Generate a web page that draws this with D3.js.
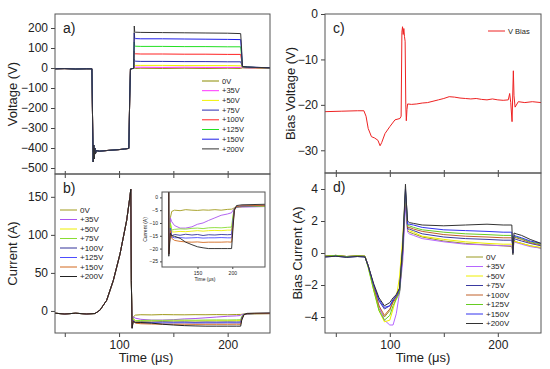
<!DOCTYPE html>
<html>
<head>
<meta charset="utf-8">
<script src="https://cdn.jsdelivr.net/npm/d3@7"></script>
<style>
  body { margin: 0; background: #fff; }
  text { font-family: Arial, "Liberation Sans", sans-serif; fill: #222; }
</style>
</head>
<body>
<svg id="chart" width="550" height="369"></svg>
<script>
// ---------------- data ----------------
var biasLabels = ["0V", "+35V", "+50V", "+75V", "+100V", "+125V", "+150V", "+200V"];

// a) electrode voltage: common negative pulse, then one plateau per bias
var pulseTimeA = [41, 50, 60, 70, 75, 75.7, 76.2, 76.7, 77.2, 77.7, 78.2, 79, 82, 90, 100, 105, 109, 109.8, 110.5, 112, 113.5];
var pulseA     = [-4, -3, -5, -4, -4, -300, -470, -385, -455, -400, -430, -413, -416, -412, -408, -405, -402, -150, -5, -3, -2];
var platTimeA  = [114, 114.4, 115, 120, 140, 160, 180, 200, 212, 212.8, 213.6, 218, 228, 239];
var platA = [
  [0, -1, -2, -1, -2, -1, -2, -1, -2, -1, 1, 0, -1, 0],
  [10, 5, 4, 4, 3, 4, 3, 3, 3, 2, 2, 1, 0, 0],
  [20, 15, 13, 13, 13, 12, 12, 12, 11, 8, 4, 3, 1, 0],
  [45, 36, 34, 33, 33, 32, 32, 31, 31, 20, 5, 4, 2, 1],
  [85, 72, 71, 70, 70, 69, 69, 68, 68, 40, 6, 4, 2, 1],
  [130, 112, 109, 108, 108, 107, 107, 106, 106, 60, 6, 5, 2, 1],
  [175, 150, 147, 146, 146, 145, 144, 143, 142, 80, 7, 5, 3, 1],
  [210, 182, 179, 178, 177, 176, 175, 174, 172, 100, 8, 5, 3, 1]
];
var colorsA = ["#8b8b00", "#ff33ff", "#f2f200", "#2b2bb0", "#ff2222", "#22e022", "#1e1ee8", "#333333"];

// b) current: common ramp, then one plateau per bias
var rampTimeB = [41, 50, 60, 70, 77.8, 82.4, 88.6, 94.7, 100.9, 107, 110, 110.8, 111.3];
var rampB     = [-3, -4, -3, -4, -3.4, 1, 14, 40, 75, 119, 150, 160, 40];
var platTimeB = [112, 113, 115, 120, 130, 140, 150, 160, 170, 180, 190, 200, 208, 212, 213, 215, 218, 225, 239];
var platTimeInset = [108.8, 111, 113, 117, 125, 133, 142, 150, 158, 166, 175, 184, 193, 199, 201, 203, 206, 214, 247];
var platB = [
  [-22, -8, -5.5, -5, -5.2, -4.8, -5, -5.1, -4.9, -5, -4.8, -5, -4.7, -4.6, -4.4, -4, -3.8, -3.6, -3.5],
  [-22, -8, -9.5, -11, -12, -12, -11.5, -10.5, -10, -9, -8, -7, -6.5, -6, -5, -4.2, -4, -3.8, -3.6],
  [-22, -10, -13.5, -13.5, -13.3, -13.4, -13.2, -13, -13.2, -13, -12.9, -13, -12.8, -12.8, -8, -4.5, -3.8, -3.6, -3.5],
  [-22, -10, -12.8, -12.5, -12.3, -12.4, -12.1, -12, -12.2, -11.9, -11.8, -11.9, -11.7, -11.6, -7, -4.4, -3.8, -3.6, -3.4],
  [-22, -12, -15, -14.5, -14.8, -14.4, -14.7, -14.5, -14.9, -14.6, -14.7, -14.5, -14.6, -14.5, -9, -4.6, -3.7, -3.4, -3.2],
  [-22, -12, -15.5, -15.8, -15.7, -15.9, -15.8, -15.7, -15.9, -15.8, -15.8, -15.7, -15.8, -15.8, -10, -4.8, -3.8, -3.4, -3.2],
  [-22, -13, -16, -16.8, -17.2, -17.4, -17.5, -17.4, -17.6, -17.5, -17.5, -17.5, -17.4, -17.5, -11, -5, -3.6, -3.3, -3.1],
  [-23, -14, -15, -15.2, -16, -17.5, -18.5, -19.3, -19.7, -20, -20, -20, -20, -20, -12, -5, -3.2, -2.9, -2.7]
];
var colorsB = ["#a09a1a", "#aa55ee", "#eeee00", "#88dd33", "#333399", "#4d4dff", "#d2691e", "#222222"];

// c) bias voltage
var timeC = [40, 55, 70, 76, 78, 80, 83, 86, 89, 91, 92.5, 95.6, 100, 104.8, 109.4, 110.5, 111.2, 111.8, 112.4, 113, 113.6, 114.2, 114.8, 115.3, 115.9, 116.5,
             120, 125, 130, 135, 140, 145, 150, 155, 160, 165, 170, 175, 180, 185, 190, 195, 200, 205, 209.7, 211, 212, 213.2, 214.4, 215, 216, 219, 225, 232, 240];
var biasV = [-21.5, -21.4, -21.3, -21.3, -22.5, -25.2, -27, -27.3, -27.8, -29, -28.3, -26.3, -24.8, -23.3, -23, -22.5, -4, -2.8, -4.5, -3.2, -5, -6, -20, -23.5, -21, -19.8,
             -19.9, -19.8, -19.6, -19.5, -19.2, -18.9, -18.6, -18.2, -18.3, -18.5, -18.6, -18.7, -18.6, -18.8, -18.9, -18.7, -18.9, -19.0, -18.9, -17.5, -19.5, -23.7, -12.5, -18, -20.5, -19.3, -19.5, -19.3, -19.5];

// d) bias current
var timeD = [40, 50, 60, 70, 77, 80, 85, 90, 95, 100, 103, 106, 109, 112, 114.5, 115.5, 116.5, 118, 122, 130, 150, 170, 190, 205, 213, 214, 215, 217, 222, 230, 240];
var biasI = [
  [-0.2, -0.15, -0.22, -0.18, -0.2, -0.8, -2.2, -3.5, -4.0, -3.6, -3.0, -2.6, -2.2, 0.5, 3.6, 2.5, 1.4, 1.3, 1.2, 1.0, 0.75, 0.6, 0.5, 0.45, 0.4, 0.0, 0.8, 0.7, 0.6, 0.45, 0.3],
  [-0.2, -0.15, -0.22, -0.18, -0.2, -0.8, -2.0, -3.3, -4.2, -4.5, -4.5, -3.8, -2.5, -0.5, 3.0, 2.2, 1.3, 1.2, 1.1, 0.9, 0.7, 0.55, 0.5, 0.45, 0.45, 0.2, 0.7, 0.65, 0.55, 0.4, 0.3],
  [-0.2, -0.15, -0.22, -0.18, -0.2, -0.9, -2.3, -3.6, -4.3, -4.2, -3.5, -2.8, -1.5, 1.0, 3.8, 3.0, 1.5, 1.4, 1.3, 1.05, 0.85, 0.7, 0.6, 0.55, 0.55, 0.3, 0.75, 0.7, 0.6, 0.45, 0.35],
  [-0.22, -0.18, -0.24, -0.2, -0.22, -0.8, -2.0, -3.0, -3.5, -3.3, -3.0, -2.7, -2.4, 0.0, 3.5, 2.4, 1.5, 1.5, 1.4, 1.2, 1.0, 0.9, 0.85, 0.8, 0.8, 0.4, 0.9, 0.85, 0.75, 0.6, 0.45],
  [-0.2, -0.15, -0.22, -0.18, -0.2, -0.8, -2.1, -3.3, -3.9, -3.5, -3.1, -2.8, -2.4, 0.2, 3.7, 2.6, 1.6, 1.6, 1.5, 1.35, 1.15, 1.05, 1.0, 0.95, 0.95, 0.5, 1.0, 0.95, 0.85, 0.65, 0.5],
  [-0.2, -0.15, -0.22, -0.18, -0.2, -0.9, -2.3, -3.6, -4.2, -3.9, -3.3, -2.9, -2.5, 0.3, 3.9, 2.8, 1.7, 1.7, 1.6, 1.45, 1.3, 1.2, 1.15, 1.1, 1.1, 0.6, 1.05, 1.0, 0.9, 0.7, 0.55],
  [-0.25, -0.2, -0.27, -0.22, -0.25, -0.8, -2.0, -2.9, -3.4, -3.3, -2.9, -2.7, -2.3, 0.4, 4.0, 3.0, 1.8, 1.8, 1.75, 1.6, 1.45, 1.4, 1.35, 1.3, 1.3, 0.0, 1.1, 1.05, 0.95, 0.75, 0.6],
  [-0.25, -0.2, -0.27, -0.22, -0.25, -0.8, -1.9, -2.8, -3.3, -3.1, -2.8, -2.6, -2.2, 0.5, 4.3, 3.0, 2.0, 1.9, 1.85, 1.75, 1.7, 1.75, 1.8, 1.75, 1.75, -0.1, 1.25, 1.2, 1.1, 0.85, 0.6]
];
var colorsD = ["#9a9a20", "#b566ff", "#eeee00", "#3a3aa0", "#c0602a", "#66cc22", "#3333ee", "#333333"];

var ticksA = [200, 100, 0, -100, -200, -300, -400, -500];
var ticksB = [0, 50, 100, 150];
var ticksC = [0, -10, -20, -30];
var ticksD = [4, 2, 0, -2, -4];
var ticksTime = [50, 100, 150, 200];
var ticksInsetY = [0, -5, -10, -15, -20, -25];
var ticksInsetX = [150, 200];

// ---------------- drawing ----------------
var svg = d3.select("#chart");
var defs = svg.append("defs");

function zip(t, v) { return t.map(function(d, i) { return [d, v[i]]; }); }

function panel(cfg) {
  var x = d3.scaleLinear().domain(cfg.xDomain).range([cfg.left, cfg.right]);
  var y = d3.scaleLinear().domain(cfg.yDomain).range([cfg.bottom, cfg.top]);
  var g = svg.append("g");

  if (cfg.background) {
    g.append("rect").attr("x", cfg.left).attr("y", cfg.top)
      .attr("width", cfg.right - cfg.left).attr("height", cfg.bottom - cfg.top)
      .attr("fill", cfg.background);
  }

  defs.append("clipPath").attr("id", "clip-" + cfg.id).append("rect")
    .attr("x", cfg.left).attr("y", cfg.top)
    .attr("width", cfg.right - cfg.left).attr("height", cfg.bottom - cfg.top);

  var line = d3.line().x(function(d) { return x(d[0]); }).y(function(d) { return y(d[1]); });
  var plot = g.append("g").attr("clip-path", "url(#clip-" + cfg.id + ")");
  cfg.series.forEach(function(s) {
    plot.append("path").datum(s.points)
      .attr("d", line).attr("fill", "none")
      .attr("stroke", s.color).attr("stroke-width", cfg.lineWidth || 1)
      .attr("stroke-linejoin", "round");
  });

  var fs = cfg.fontSize || 12;
  var yAxis = g.append("g").attr("transform", "translate(" + cfg.left + ",0)")
    .call(d3.axisLeft(y).tickValues(cfg.yTicks).tickSize(cfg.tickSize || 4).tickPadding(cfg.tickPad || 3));
  var xAxis = g.append("g").attr("transform", "translate(0," + cfg.bottom + ")")
    .call(d3.axisBottom(x).tickValues(cfg.xTicks).tickSize(cfg.tickSize || 4).tickPadding(cfg.tickPad || 3)
      .tickFormat(function(d) { return cfg.xLabels && cfg.xLabels.indexOf(d) >= 0 ? d : ""; }));
  if (cfg.crossTicks) xAxis.selectAll(".tick line").attr("y1", -3);
  [yAxis, xAxis].forEach(function(a) {
    a.select(".domain").remove();
    a.selectAll(".tick line").attr("stroke", "#444");
    a.selectAll("text").attr("font-size", fs).attr("font-family", "Arial, Liberation Sans, sans-serif").attr("fill", "#222");
  });

  g.append("rect").attr("x", cfg.left).attr("y", cfg.top)
    .attr("width", cfg.right - cfg.left).attr("height", cfg.bottom - cfg.top)
    .attr("fill", "none").attr("stroke", "#555").attr("stroke-width", 1);

  if (cfg.letter) {
    g.append("text").attr("x", cfg.left + 8).attr("y", cfg.top + 19)
      .attr("font-size", 14).text(cfg.letter);
  }
  if (cfg.yTitle) {
    g.append("text").attr("transform", "translate(" + cfg.yTitleX + "," + ((cfg.top + cfg.bottom) / 2) + ") rotate(-90)")
      .attr("text-anchor", "middle").attr("dy", "0.35em").attr("font-size", cfg.titleSize || 13).text(cfg.yTitle);
  }
  if (cfg.xTitle) {
    g.append("text").attr("x", cfg.xTitleX).attr("y", cfg.xTitleY)
      .attr("text-anchor", "middle").attr("font-size", cfg.titleSize || 13).text(cfg.xTitle);
  }
  return g;
}

function legend(x0, y0, step, font, labels, colors) {
  var g = svg.append("g");
  labels.forEach(function(l, i) {
    var yy = y0 + i * step;
    g.append("line").attr("x1", x0).attr("x2", x0 + 17).attr("y1", yy).attr("y2", yy)
      .attr("stroke", colors[i]).attr("stroke-width", 1);
    g.append("text").attr("x", x0 + 20).attr("y", yy).attr("dy", "0.35em")
      .attr("font-size", font).attr("fill", "#333").text(l);
  });
}

// a) Voltage
panel({
  id: "a", left: 55, right: 270, top: 14, bottom: 174,
  xDomain: [41, 239], yDomain: [-530, 270],
  xTicks: ticksTime, yTicks: ticksA, crossTicks: true,
  letter: "a)", yTitle: "Voltage (V)", yTitleX: 12,
  series: platA.map(function(v, i) {
    return { color: colorsA[i], points: zip(pulseTimeA, pulseA).concat(zip(platTimeA, v)) };
  })
});
legend(202, 81, 9.7, 7.5, biasLabels, colorsA);

// b) Current
panel({
  id: "b", left: 55, right: 270, top: 174, bottom: 333,
  xDomain: [41, 239], yDomain: [-29, 180],
  xTicks: ticksTime, xLabels: [100, 200], yTicks: ticksB,
  letter: "b)", yTitle: "Current (A)", yTitleX: 12,
  xTitle: "Time (\u03bcs)", xTitleX: 146, xTitleY: 362,
  series: platB.map(function(v, i) {
    return { color: colorsB[i], points: zip(rampTimeB, rampB).concat(zip(platTimeB, v)) };
  })
});
legend(60, 210, 9.5, 8, biasLabels, colorsB);

// b) inset
panel({
  id: "inset", left: 162, right: 265, top: 192, bottom: 267, background: "#fff",
  xDomain: [99, 247], yDomain: [-27.2, 2.1],
  xTicks: ticksInsetX, xLabels: ticksInsetX, yTicks: ticksInsetY,
  fontSize: 5, tickSize: 2, tickPad: 2, lineWidth: 0.9, titleSize: 5,
  yTitle: "Current (A)", yTitleX: 145,
  xTitle: "Time (\u03bcs)", xTitleX: 205, xTitleY: 281,
  series: platB.map(function(v, i) {
    return { color: colorsB[i], points: [[108.6, 10]].concat(zip(platTimeInset, v)) };
  })
});

// c) Bias voltage
panel({
  id: "c", left: 325, right: 541, top: 14, bottom: 173,
  xDomain: [40, 240], yDomain: [-35, 0],
  xTicks: ticksTime, yTicks: ticksC, crossTicks: true,
  letter: "c)", yTitle: "Bias Voltage (V)", yTitleX: 290,
  series: [{ color: "#ee2222", points: zip(timeC, biasV) }]
});
legend(488, 31, 10, 7.5, ["V Bias"], ["#ee2222"]);

// d) Bias current
panel({
  id: "d", left: 325, right: 541, top: 173, bottom: 333,
  xDomain: [40, 240], yDomain: [-5, 5],
  xTicks: ticksTime, xLabels: [100, 200], yTicks: ticksD,
  letter: "d)", yTitle: "Bias Current (A)", yTitleX: 297,
  xTitle: "Time (\u03bcs)", xTitleX: 423, xTitleY: 362,
  series: biasI.map(function(v, i) { return { color: colorsD[i], points: zip(timeD, v) }; })
});
legend(466, 257, 9.5, 8, biasLabels, colorsD);
</script>
</body>
</html>
